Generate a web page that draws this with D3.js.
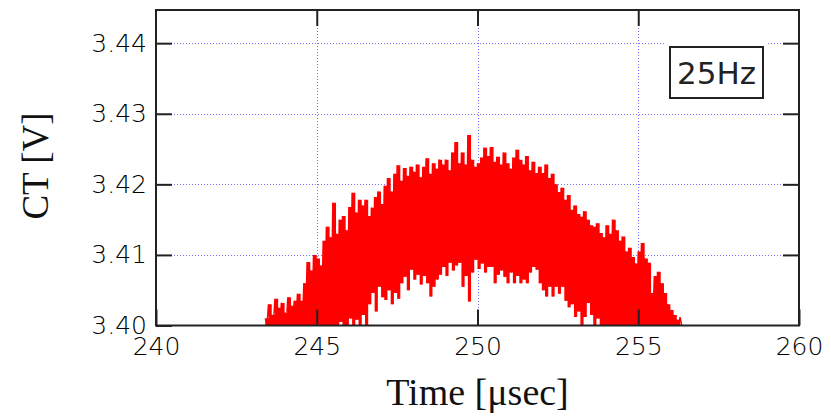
<!DOCTYPE html>
<html>
<head>
<meta charset="utf-8">
<script src="https://cdn.jsdelivr.net/npm/d3@7"></script>
<style>
    body { margin: 0; background: #fff; }
    svg { display: block; }
</style>
</head>
<body>
<div id="chart"></div>
<script>
// Sampling grid of the trace (usec)
const T0 = 243.4;
const DT = 0.1;

// Upper / lower excursion of the noisy CT trace in each 0.1 usec slot (V)
const hi = [
    3.4010, 3.4030, 3.4015, 3.4038, 3.4025, 3.4032, 3.4018, 3.4040, 3.4028, 3.4035,
    3.4045, 3.4035, 3.4060, 3.4090, 3.4078, 3.4100, 3.4095, 3.4085, 3.4120, 3.4140,
    3.4125, 3.4174, 3.4130, 3.4150, 3.4155, 3.4135, 3.4168, 3.4188, 3.4160, 3.4178,
    3.4170, 3.4178, 3.4155, 3.4167, 3.4182, 3.4190, 3.4172, 3.4198, 3.4209, 3.4190,
    3.4215, 3.4227, 3.4205, 3.4223, 3.4212, 3.4225, 3.4218, 3.4228, 3.4210, 3.4225,
    3.4237, 3.4215, 3.4230, 3.4222, 3.4235, 3.4228, 3.4235, 3.4220, 3.4245, 3.4260,
    3.4230, 3.4245, 3.4228, 3.4270, 3.4235, 3.4225, 3.4230, 3.4238, 3.4252, 3.4240,
    3.4253, 3.4232, 3.4239, 3.4228, 3.4245, 3.4230, 3.4222, 3.4238, 3.4249, 3.4235,
    3.4228, 3.4240, 3.4220, 3.4232, 3.4216, 3.4225, 3.4216, 3.4228, 3.4209, 3.4215,
    3.4200, 3.4189, 3.4195, 3.4178, 3.4185, 3.4164, 3.4170, 3.4158, 3.4154, 3.4162,
    3.4150, 3.4142, 3.4140, 3.4145, 3.4131, 3.4125, 3.4142, 3.4130, 3.4150, 3.4135,
    3.4120, 3.4126, 3.4105, 3.4110, 3.4097, 3.4088, 3.4105, 3.4117, 3.4095, 3.4089,
    3.4046, 3.4070, 3.4076, 3.4060, 3.4046, 3.4030, 3.4022, 3.4015, 3.4008, 3.4012
];

const lo = [
    3.4000, 3.4000, 3.4000, 3.4000, 3.4000, 3.4000, 3.4000, 3.4000, 3.4000, 3.4000,
    3.4000, 3.4000, 3.4000, 3.4000, 3.4000, 3.4000, 3.4000, 3.4000, 3.4000, 3.4000,
    3.4000, 3.4000, 3.4000, 3.4005, 3.4000, 3.4000, 3.4010, 3.4000, 3.4008, 3.4000,
    3.4015, 3.4000, 3.4030, 3.4046, 3.4020, 3.4055, 3.4040, 3.4036, 3.4050, 3.4030,
    3.4046, 3.4038, 3.4060, 3.4069, 3.4050, 3.4079, 3.4065, 3.4072, 3.4058, 3.4070,
    3.4060, 3.4041, 3.4055, 3.4065, 3.4072, 3.4083, 3.4070, 3.4089, 3.4078, 3.4085,
    3.4089, 3.4055, 3.4070, 3.4034, 3.4075, 3.4093, 3.4080, 3.4088, 3.4075, 3.4083,
    3.4083, 3.4060, 3.4072, 3.4078, 3.4069, 3.4060, 3.4075, 3.4060, 3.4070, 3.4060,
    3.4065, 3.4060, 3.4075, 3.4083, 3.4079, 3.4060, 3.4050, 3.4041, 3.4055, 3.4041,
    3.4055, 3.4045, 3.4055, 3.4035, 3.4026, 3.4030, 3.4012, 3.4020, 3.4000, 3.4012,
    3.4032, 3.4015, 3.4000, 3.4010, 3.4000, 3.4000, 3.4000, 3.4000, 3.4000, 3.4000,
    3.4000, 3.4000, 3.4000, 3.4000, 3.4000, 3.4000, 3.4000, 3.4000, 3.4000, 3.4000,
    3.4000, 3.4000, 3.4000, 3.4000, 3.4000, 3.4000, 3.4000, 3.4000, 3.4000, 3.4000
];

const xTicks = [240, 245, 250, 255, 260];
const yTicks = [3.40, 3.41, 3.42, 3.43, 3.44];
const X_DOMAIN = [240, 260];
const Y_DOMAIN = [3.40, 3.4447];
const LEGEND = '25Hz';

const WIDTH = 831;
const HEIGHT = 418;
const margin = { left: 156, right: 32, top: 10, bottom: 92.5 };
const plotW = WIDTH - margin.left - margin.right;
const plotH = HEIGHT - margin.top - margin.bottom;
const TICK = 16;
const RED = '#ff0000';
const GRID = '#7474ff';

const svg = d3.select('#chart')
    .append('svg')
    .attr('width', WIDTH)
    .attr('height', HEIGHT);

const xScale = d3.scaleLinear().domain(X_DOMAIN).range([0, plotW]);
const yScale = d3.scaleLinear().domain(Y_DOMAIN).range([plotH, 0]);

const g = svg.append('g')
    .attr('transform', `translate(${margin.left},${margin.top})`);

g.append('clipPath')
    .attr('id', 'clip')
    .append('rect')
    .attr('width', plotW)
    .attr('height', plotH);

// Grid lines (dotted blue)
const snap = v => Math.round(v) + 0.5;

g.selectAll('.vgrid')
    .data(xTicks.slice(1, -1))
    .enter()
    .append('line')
    .attr('x1', d => snap(xScale(d)))
    .attr('x2', d => snap(xScale(d)))
    .attr('y1', 0)
    .attr('y2', plotH)
    .attr('stroke', GRID)
    .attr('stroke-width', 1)
    .attr('stroke-dasharray', '1,2');

g.selectAll('.hgrid')
    .data(yTicks.slice(1))
    .enter()
    .append('line')
    .attr('x1', 0)
    .attr('x2', plotW)
    .attr('y1', d => snap(yScale(d)))
    .attr('y2', d => snap(yScale(d)))
    .attr('stroke', GRID)
    .attr('stroke-width', 1)
    .attr('stroke-dasharray', '1,2');

// Trace body: one column per slot, from its lower to its upper excursion
const slots = hi.map((v, i) => ({ t: T0 + i * DT, hi: v, lo: lo[i] }));

const area = d3.area()
    .curve(d3.curveStepAfter)
    .x(d => xScale(d.t))
    .y0(d => yScale(d.lo))
    .y1(d => yScale(d.hi));

g.append('path')
    .datum(slots)
    .attr('clip-path', 'url(#clip)')
    .attr('d', area)
    .attr('fill', RED);

// Trace swings: each slot goes up to hi then down to lo
const pts = [];
slots.forEach(d => {
    pts.push([d.t, d.hi]);
    pts.push([d.t + DT / 2, d.lo]);
});

const line = d3.line()
    .x(d => xScale(d[0]))
    .y(d => yScale(d[1]));

g.append('path')
    .datum(pts)
    .attr('clip-path', 'url(#clip)')
    .attr('d', line)
    .attr('fill', 'none')
    .attr('stroke', RED)
    .attr('stroke-width', 1.5)
    .attr('stroke-linejoin', 'bevel');

// Axes (ticks inside, on all four sides)
const axisStyle = sel => {
    sel.select('.domain').remove();
    sel.selectAll('.tick line').attr('stroke', '#222').attr('stroke-width', 2);
    sel.selectAll('.tick text')
        .attr('fill', '#000')
        .style('font-family', '"DejaVu Sans", sans-serif')
        .style('font-weight', 200)
        .style('font-size', '25px');
};

g.append('g')
    .attr('transform', `translate(0,${plotH})`)
    .call(d3.axisBottom(xScale).tickValues(xTicks).tickSize(-TICK).tickPadding(12).tickFormat(d3.format('d')))
    .call(axisStyle);

g.append('g')
    .call(d3.axisTop(xScale).tickValues(xTicks.slice(1, -1)).tickSize(-TICK).tickFormat(''))
    .call(axisStyle);

g.append('g')
    .call(d3.axisLeft(yScale).tickValues(yTicks).tickSize(-TICK).tickPadding(9).tickFormat(d3.format('.2f')))
    .call(axisStyle);

g.append('g')
    .attr('transform', `translate(${plotW},0)`)
    .call(d3.axisRight(yScale).tickValues(yTicks.slice(1)).tickSize(-TICK).tickFormat(''))
    .call(axisStyle);

// Frame
g.append('rect')
    .attr('width', plotW)
    .attr('height', plotH)
    .attr('fill', 'none')
    .attr('stroke', '#222')
    .attr('stroke-width', 2);

// Legend box
const lg = g.append('g')
    .attr('transform', `translate(${514},${37})`);

lg.append('rect')
    .attr('x', -5)
    .attr('y', -4)
    .attr('width', 103)
    .attr('height', 59)
    .attr('fill', '#fff');

lg.append('rect')
    .attr('width', 93)
    .attr('height', 51)
    .attr('fill', '#fff')
    .attr('stroke', '#222')
    .attr('stroke-width', 2);

lg.append('text')
    .attr('x', 46.5)
    .attr('y', 36.5)
    .attr('text-anchor', 'middle')
    .attr('fill', '#222')
    .style('font-family', '"DejaVu Sans", sans-serif')
    .style('font-size', '31px')
    .text(LEGEND);

// Axis titles
svg.append('text')
    .attr('x', margin.left + plotW / 2)
    .attr('y', 405)
    .attr('text-anchor', 'middle')
    .attr('fill', '#111')
    .style('font-family', '"Liberation Serif", serif')
    .style('font-size', '38px')
    .text('Time [\u03bcsec]');

svg.append('text')
    .attr('transform', 'translate(48,166) rotate(-90)')
    .attr('text-anchor', 'middle')
    .attr('fill', '#111')
    .style('font-family', '"Liberation Serif", serif')
    .style('font-size', '37px')
    .text('CT [V]');
</script>
</body>
</html>
